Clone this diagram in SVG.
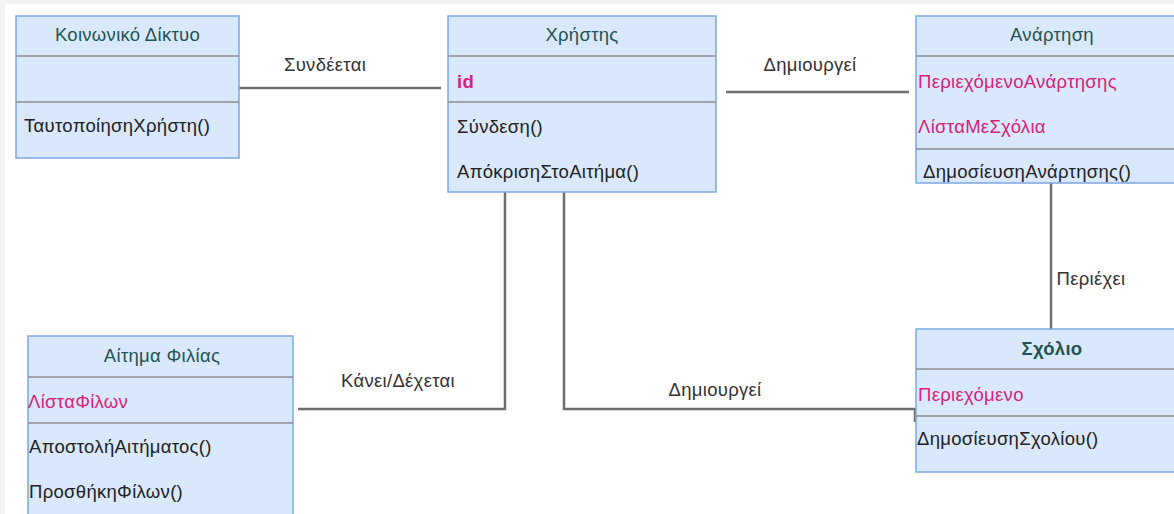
<svg xmlns="http://www.w3.org/2000/svg" width="1174" height="514" viewBox="0 0 1174 514">
<style>
.box{fill:#dae8fc;stroke:#7ea6e0;stroke-width:1.5}
.div{stroke:#8c8c8c;stroke-width:1.5}
.t{font-family:"Liberation Sans",Arial,sans-serif;font-size:18.5px;letter-spacing:0.3px}
.title{fill:#1f5452;text-anchor:middle}
.attr{fill:#d6237a}
.op{fill:#222}
.lbl{fill:#333;text-anchor:middle}
.conn{fill:none;stroke:#6e6e6e;stroke-width:2.5}
</style>
<rect x="0" y="0" width="1174" height="514" fill="#f1f3f4"/>
<rect x="5" y="4" width="1169" height="510" fill="#ffffff"/>
<g id="connectors">
<path class="conn" d="M239 88 H441"/>
<path class="conn" d="M726 92 H909"/>
<path class="conn" d="M1051 183 V329"/>
<path class="conn" d="M505 192 V409 H298"/>
<path class="conn" d="M564 192 V409 H915 V422"/>
<text class="t lbl" x="325" y="71">Συνδέεται</text>
<text class="t lbl" x="810" y="71">Δημιουργεί</text>
<text class="t lbl" x="1091" y="285">Περιέχει</text>
<text class="t lbl" x="398" y="387">Κάνει/Δέχεται</text>
<text class="t lbl" x="715" y="396">Δημιουργεί</text>
</g>
<g id="node-koinoniko">
<rect class="box" x="16" y="16" width="223" height="142"/>
<line class="div" x1="16" y1="56" x2="239" y2="56"/>
<line class="div" x1="16" y1="102" x2="239" y2="102"/>
<text class="t title" x="127.5" y="41">Κοινωνικό Δίκτυο</text>
<text class="t op" x="24" y="132">ΤαυτοποίησηΧρήστη()</text>
</g>
<g id="node-xristis">
<rect class="box" x="448" y="16" width="268" height="176"/>
<line class="div" x1="448" y1="56" x2="716" y2="56"/>
<line class="div" x1="448" y1="102" x2="716" y2="102"/>
<text class="t title" x="582" y="41">Χρήστης</text>
<text class="t attr" x="457" y="88" font-weight="bold">id</text>
<text class="t op" x="457" y="133">Σύνδεση()</text>
<text class="t op" x="457" y="178">ΑπόκρισηΣτοΑιτήμα()</text>
</g>
<g id="node-anartisi">
<rect class="box" x="916" y="16" width="272" height="167"/>
<line class="div" x1="916" y1="56" x2="1188" y2="56"/>
<line class="div" x1="916" y1="149" x2="1188" y2="149"/>
<text class="t title" x="1052" y="41">Ανάρτηση</text>
<text class="t attr" x="918" y="88">ΠεριεχόμενοΑνάρτησης</text>
<text class="t attr" x="918" y="133">ΛίσταΜεΣχόλια</text>
<text class="t op" x="923" y="178">ΔημοσίευσηΑνάρτησης()</text>
</g>
<g id="node-aitima">
<rect class="box" x="28" y="336" width="265" height="180"/>
<line class="div" x1="28" y1="377" x2="293" y2="377"/>
<line class="div" x1="28" y1="423" x2="293" y2="423"/>
<text class="t title" x="162" y="362">Αίτημα Φιλίας</text>
<text class="t attr" x="28" y="408">ΛίσταΦίλων</text>
<text class="t op" x="29" y="453">ΑποστολήΑιτήματος()</text>
<text class="t op" x="29" y="498">ΠροσθήκηΦίλων()</text>
</g>
<g id="node-sxolio">
<rect class="box" x="916" y="329" width="272" height="143"/>
<line class="div" x1="916" y1="369" x2="1188" y2="369"/>
<line class="div" x1="916" y1="416" x2="1188" y2="416"/>
<text class="t title" x="1052" y="355" font-weight="bold">Σχόλιο</text>
<text class="t attr" x="918" y="401">Περιεχόμενο</text>
<text class="t op" x="917" y="445">ΔημοσίευσηΣχολίου()</text>
</g>
</svg>
